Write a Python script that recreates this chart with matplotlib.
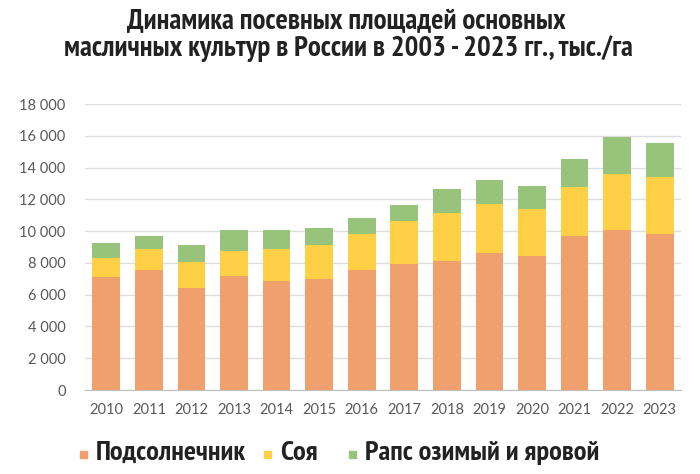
import matplotlib
matplotlib.use("Agg")
import matplotlib.pyplot as plt
from matplotlib import font_manager as fm
from matplotlib.ft2font import FT2Font
from matplotlib.patches import Rectangle
from matplotlib.ticker import FuncFormatter
import numpy as np

years = ["2010", "2011", "2012", "2013", "2014", "2015", "2016",
         "2017", "2018", "2019", "2020", "2021", "2022", "2023"]
sunflower = [7100, 7560, 6450, 7200, 6850, 7000, 7560, 7960, 8110, 8610, 8460, 9700, 10060, 9790]
soy = [1220, 1320, 1580, 1550, 2010, 2140, 2250, 2690, 3000, 3070, 2920, 3070, 3530, 3630]
rapeseed = [920, 820, 1110, 1300, 1200, 1030, 1010, 990, 1550, 1550, 1470, 1740, 2330, 2120]
series_names = ["Подсолнечник", "Соя", "Рапс озимый и яровой"]
colors = ["#F0A06C", "#FFD045", "#97C47A"]
title_lines = ["Динамика посевных площадей основных",
               "масличных культур в России в 2003 - 2023 гг., тыс./га"]


def pick_family(prefs):
    # first narrow family that really has Cyrillic glyphs
    for name in prefs:
        for f in fm.fontManager.ttflist:
            if f.name == name:
                try:
                    if ord("Д") in FT2Font(f.fname).get_charmap():
                        return name
                except Exception:
                    pass
    return "DejaVu Sans"


narrow = pick_family(["PT Sans Narrow", "Roboto Condensed", "Fira Sans Condensed",
                      "Open Sans Condensed", "Fira Sans Extra Condensed"])
tickfont = ["Lato", "DejaVu Sans"]

W, H = 700, 474
fig = plt.figure(figsize=(W / 100, H / 100), dpi=100)
ax = fig.add_axes([85 / W, 84 / H, 596 / W, 286 / H])

x = np.arange(len(years))
s1 = np.array(sunflower)
s2 = np.array(soy)
s3 = np.array(rapeseed)
ax.bar(x, s1, width=0.65, color=colors[0], zorder=3)
ax.bar(x, s2, width=0.65, bottom=s1, color=colors[1], zorder=3)
ax.bar(x, s3, width=0.65, bottom=s1 + s2, color=colors[2], zorder=3)

ax.set_xlim(-0.5, len(years) - 0.5)
ax.set_ylim(0, 18000)
ax.set_yticks(np.arange(0, 18001, 2000))
ax.yaxis.set_major_formatter(FuncFormatter(lambda v, p: f"{int(v):,}".replace(",", " ")))
ax.set_xticks(x)
ax.set_xticklabels(years)
ax.grid(axis="y", color="#DCDCDC", linewidth=1, zorder=0)
for s in ["top", "right", "left"]:
    ax.spines[s].set_visible(False)
ax.spines["bottom"].set_color("#BFBFBF")
ax.tick_params(axis="both", length=0, colors="#595959", labelsize=10.5)
ax.tick_params(axis="y", pad=14)
ax.tick_params(axis="x", pad=9)
for lab in ax.get_xticklabels() + ax.get_yticklabels():
    lab.set_family(tickfont)

renderer = fig.canvas.get_renderer()


def fit(txt, width_px):
    w = txt.get_window_extent(renderer).width
    txt.set_fontsize(txt.get_fontsize() * width_px / w)


# title, two lines (font is taller than the original, so keep it a bit smaller)
t1 = fig.text(346 / W, 1 - 29 / H, title_lines[0], ha="center", va="baseline", fontsize=17,
              fontweight="bold", family=narrow, color="#222222")
t2 = fig.text(348 / W, 1 - 56 / H, title_lines[1], ha="center", va="baseline", fontsize=17,
              fontweight="bold", family=narrow, color="#222222")
fit(t1, 492)
fit(t2, 627)
size = 0.9 * (t1.get_fontsize() + t2.get_fontsize()) / 2
t1.set_fontsize(size)
t2.set_fontsize(size)

# legend drawn by hand: square + label
text_x = [96, 280, 365]
leg_texts = []
for name, col, tx in zip(series_names, colors, text_x):
    fig.patches.append(Rectangle(((tx - 16) / W, (H - 458) / H), 7 / W, 7 / H,
                                 transform=fig.transFigure, color=col, figure=fig))
    leg_texts.append(fig.text(tx / W, 1 - 460 / H, name, ha="left", va="baseline",
                              fontsize=14, fontweight="bold", family=narrow, color="#222222"))
fit(leg_texts[0], 151)
for t in leg_texts[1:]:
    t.set_fontsize(leg_texts[0].get_fontsize())

fig.savefig("out.png", dpi=100)
